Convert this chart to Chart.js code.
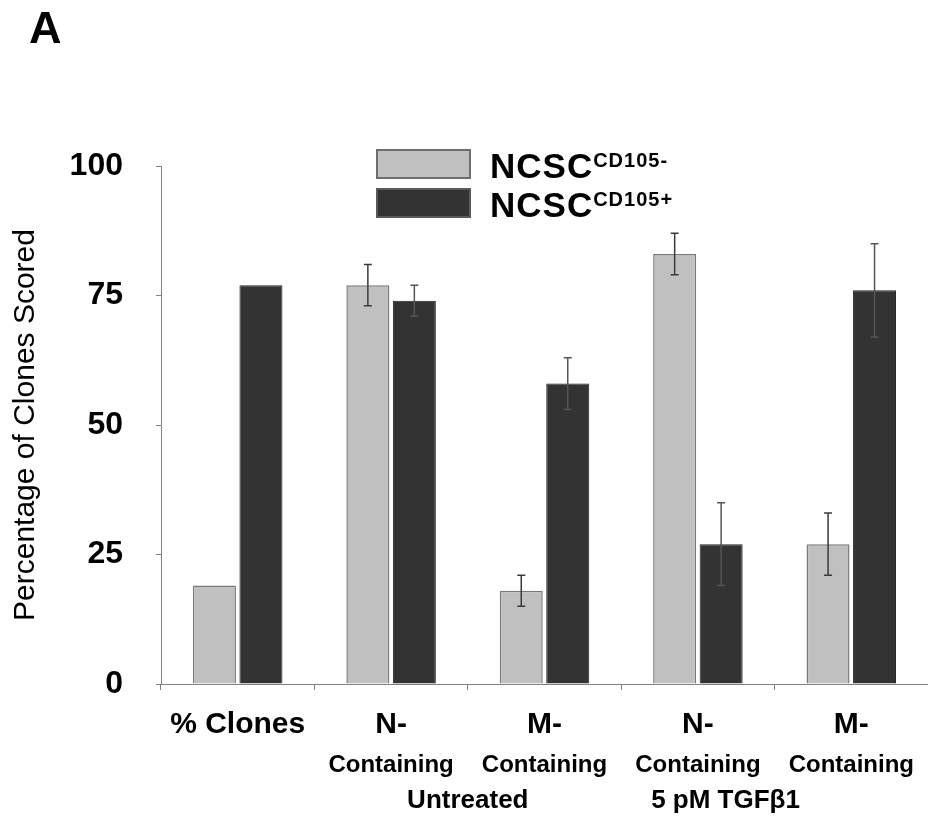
<!DOCTYPE html>
<html>
<head>
<meta charset="utf-8">
<script src="https://cdn.jsdelivr.net/npm/chart.js@4.4.0/dist/chart.umd.min.js"></script>
<style>
  body { margin: 0; background: #fff; }
  #wrap { width: 928px; height: 823px; position: relative; }
</style>
</head>
<body>
<div id="wrap"><canvas id="clonesChart" width="928" height="823"></canvas></div>
<script>
// categories (first line of each x label) and the lines under them
const categories = ['% Clones', 'N-', 'M-', 'N-', 'M-'];
const subLabels = ['', 'Containing', 'Containing', 'Containing', 'Containing'];
const groupLabels = ['Untreated', '5 pM TGF\u03b21'];

// series values
const cd105Neg = [19, 77, 18, 83, 27];
const cd105Pos = [77, 74, 58, 27, 76];
const cd105NegErr = [0, 4, 3, 4, 6];
const cd105PosErr = [0, 3, 5, 8, 9];

const yTicks = [0, 25, 50, 75, 100];

const FONT = '"Liberation Sans", Arial, Helvetica, sans-serif';
Chart.defaults.font.family = FONT;
Chart.defaults.color = '#000';

const errorBars = {
    id: 'errorBars',
    afterDatasetsDraw(chart) {
        const ctx = chart.ctx;
        const y = chart.scales.y;
        const errs = [cd105NegErr, cd105PosErr];
        ctx.save();
        chart.data.datasets.forEach((ds, d) => {
            const meta = chart.getDatasetMeta(d);
            meta.data.forEach((bar, i) => {
                const e = errs[d][i];
                if (!e) return;
                const top = y.getPixelForValue(ds.data[i] + e);
                const bot = y.getPixelForValue(ds.data[i] - e);
                ctx.strokeStyle = d === 0 ? '#3a3a3a' : '#555';
                ctx.lineWidth = 1.5;
                ctx.beginPath();
                ctx.moveTo(bar.x, top); ctx.lineTo(bar.x, bot);
                ctx.moveTo(bar.x - 4, top); ctx.lineTo(bar.x + 4, top);
                ctx.moveTo(bar.x - 4, bot); ctx.lineTo(bar.x + 4, bot);
                ctx.stroke();
            });
        });
        ctx.restore();
    }
};

// second and third line of x labels, legend with superscripts, panel letter
const extraText = {
    id: 'extraText',
    afterDraw(chart) {
        const ctx = chart.ctx;
        const x = chart.scales.x;
        ctx.save();
        ctx.fillStyle = '#000';
        ctx.textAlign = 'center';
        ctx.textBaseline = 'alphabetic';
        ctx.font = 'bold 24px ' + FONT;
        subLabels.forEach((s, i) => {
            if (s) ctx.fillText(s, x.getPixelForValue(i), 772);
        });
        ctx.font = 'bold 26px ' + FONT;
        ctx.fillText(groupLabels[0], (x.getPixelForValue(1) + x.getPixelForValue(2)) / 2, 808);
        ctx.fillText(groupLabels[1], x.getPixelForValue(3) + (x.getPixelForValue(4) - x.getPixelForValue(3)) * 0.18, 808);

        // legend
        ctx.textAlign = 'left';
        const sups = ['CD105-', 'CD105+'];
        const boxTops = [150, 189];
        const borders = ['#6e6e6e', '#5a5a5a'];
        chart.data.datasets.forEach((ds, d) => {
            ctx.fillStyle = ds.backgroundColor;
            ctx.fillRect(377, boxTops[d], 93, 28);
            ctx.strokeStyle = borders[d];
            ctx.lineWidth = 2;
            ctx.strokeRect(377, boxTops[d], 93, 28);
            ctx.fillStyle = '#000';
            ctx.font = 'bold 35px ' + FONT;
            ctx.letterSpacing = '1px';
            ctx.fillText('NCSC', 490, boxTops[d] + 28);
            const w = ctx.measureText('NCSC').width;
            ctx.font = 'bold 20px ' + FONT;
            ctx.fillText(sups[d], 490 + w, boxTops[d] + 17);
            ctx.letterSpacing = '0px';
        });

        ctx.font = 'bold 45px ' + FONT;
        ctx.fillText('A', 29, 43);
        ctx.restore();
    }
};

new Chart(document.getElementById('clonesChart'), {
    type: 'bar',
    data: {
        labels: categories,
        datasets: [{
            label: 'NCSC CD105-',
            data: cd105Neg,
            backgroundColor: '#c0c0c0',
            borderColor: '#7a7a7a',
            borderWidth: 1.5,
            barPercentage: 0.925,
            categoryPercentage: 0.606
        }, {
            label: 'NCSC CD105+',
            data: cd105Pos,
            backgroundColor: '#333333',
            borderColor: '#222222',
            borderWidth: 1,
            barPercentage: 0.925,
            categoryPercentage: 0.606
        }]
    },
    options: {
        responsive: false,
        animation: false,
        devicePixelRatio: 1,
        layout: { padding: { top: 166, right: 0, left: 0, bottom: 0 } },
        plugins: {
            legend: { display: false },
            tooltip: { enabled: false }
        },
        scales: {
            x: {
                afterFit: s => { s.height = 139; },
                grid: { offset: true, drawOnChartArea: false, tickLength: 6, color: '#808080' },
                border: { color: '#808080', width: 1 },
                ticks: { font: { size: 30, weight: 'bold' }, padding: 17, maxRotation: 0, autoSkip: false }
            },
            y: {
                min: 0,
                max: 100,
                afterFit: s => { s.width = 161; },
                afterBuildTicks: s => { s.ticks = yTicks.map(v => ({ value: v })); },
                grid: { drawOnChartArea: false, tickLength: 5, color: '#808080' },
                border: { color: '#808080', width: 1 },
                ticks: { font: { size: 32, weight: 'bold' }, padding: 33 },
                title: {
                    display: true,
                    text: 'Percentage of Clones Scored',
                    font: { size: 30 },
                    padding: { top: 8, bottom: 0 }
                }
            }
        }
    },
    plugins: [errorBars, extraText]
});
</script>
</body>
</html>
